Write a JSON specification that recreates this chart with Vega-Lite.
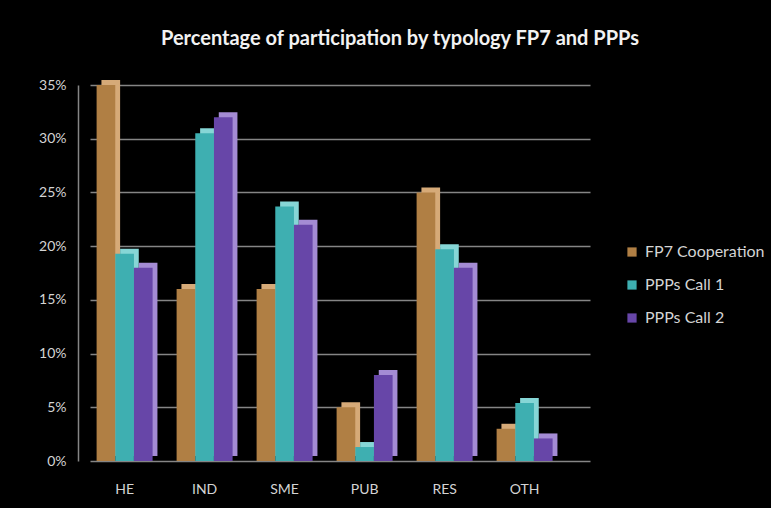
{
  "$schema": "https://vega.github.io/schema/vega-lite/v6.json",
  "width": 500,
  "height": 376,
  "autosize": {"type": "none"},
  "padding": {"left": 90, "top": 85, "right": 181, "bottom": 47},
  "background": "#000000",
  "config": {"view": {"stroke": null}},
  "title": {
    "text": "Percentage of participation by typology FP7 and PPPs",
    "anchor": "middle",
    "color": "#f2f2f2",
    "font": "Lato",
    "fontSize": 20,
    "fontWeight": "bold",
    "offset": 29,
    "dx": 60
  },
  "data": {
    "values": [
      {"cat": "HE", "series": "FP7 Cooperation", "value": 0.350},
      {"cat": "HE", "series": "PPPs Call 1", "value": 0.193},
      {"cat": "HE", "series": "PPPs Call 2", "value": 0.180},
      {"cat": "IND", "series": "FP7 Cooperation", "value": 0.160},
      {"cat": "IND", "series": "PPPs Call 1", "value": 0.305},
      {"cat": "IND", "series": "PPPs Call 2", "value": 0.320},
      {"cat": "SME", "series": "FP7 Cooperation", "value": 0.160},
      {"cat": "SME", "series": "PPPs Call 1", "value": 0.237},
      {"cat": "SME", "series": "PPPs Call 2", "value": 0.220},
      {"cat": "PUB", "series": "FP7 Cooperation", "value": 0.050},
      {"cat": "PUB", "series": "PPPs Call 1", "value": 0.013},
      {"cat": "PUB", "series": "PPPs Call 2", "value": 0.080},
      {"cat": "RES", "series": "FP7 Cooperation", "value": 0.250},
      {"cat": "RES", "series": "PPPs Call 1", "value": 0.197},
      {"cat": "RES", "series": "PPPs Call 2", "value": 0.180},
      {"cat": "OTH", "series": "FP7 Cooperation", "value": 0.030},
      {"cat": "OTH", "series": "PPPs Call 1", "value": 0.054},
      {"cat": "OTH", "series": "PPPs Call 2", "value": 0.021}
    ]
  },
  "encoding": {
    "xOffset": {
      "field": "series",
      "type": "nominal",
      "sort": ["FP7 Cooperation", "PPPs Call 1", "PPPs Call 2"]
    },
    "y": {
      "field": "value",
      "type": "quantitative",
      "scale": {"domain": [0, 0.35]},
      "axis": {
        "title": null,
        "values": [0, 0.05, 0.1, 0.15, 0.2, 0.25, 0.3, 0.35],
        "format": ".0%",
        "labelColor": "#d4d4d4",
        "labelFont": "Lato",
        "labelFontSize": 14,
        "grid": true,
        "gridColor": "#858585",
        "gridWidth": 1.5,
        "domain": true,
        "domainColor": "#858585",
        "domainWidth": 1.5,
        "ticks": false,
        "offset": 12,
        "labelPadding": 12
      }
    }
  },
  "layer": [
    {
      "mark": {"type": "bar", "yOffset": -5},
      "encoding": {
        "x": {
          "field": "cat",
          "type": "nominal",
          "sort": ["HE", "IND", "SME", "PUB", "RES", "OTH"],
          "scale": {"paddingInner": 0.3, "paddingOuter": 0.275, "align": 0.26},
          "axis": null
        },
        "color": {
          "field": "series",
          "type": "nominal",
          "scale": {
            "domain": ["FP7 Cooperation", "PPPs Call 1", "PPPs Call 2"],
            "range": ["#d6aa78", "#86d6d6", "#a48bd4"]
          },
          "legend": null
        }
      }
    },
    {
      "mark": {"type": "bar"},
      "encoding": {
        "x": {
          "field": "cat",
          "type": "nominal",
          "sort": ["HE", "IND", "SME", "PUB", "RES", "OTH"],
          "scale": {"paddingInner": 0.3, "paddingOuter": 0.275, "align": 0.15},
          "axis": {
            "title": null,
            "labelAngle": 0,
            "labelColor": "#d4d4d4",
            "labelFont": "Lato",
            "labelFontSize": 14,
            "labelPadding": 21,
            "domain": false,
            "ticks": false
          }
        },
        "color": {
          "field": "series",
          "type": "nominal",
          "scale": {
            "domain": ["FP7 Cooperation", "PPPs Call 1", "PPPs Call 2"],
            "range": ["#b07f44", "#3eafb1", "#6746a8"]
          },
          "legend": {
            "title": null,
            "orient": "none",
            "legendX": 534,
            "legendY": 159,
            "labelColor": "#d4d4d4",
            "labelFont": "Lato",
            "labelFontSize": 16,
            "symbolType": "square",
            "symbolSize": 85,
            "symbolStrokeWidth": 0,
            "rowPadding": 17,
            "labelOffset": 5
          }
        }
      }
    }
  ],
  "resolve": {"scale": {"color": "independent", "x": "independent"}}
}
